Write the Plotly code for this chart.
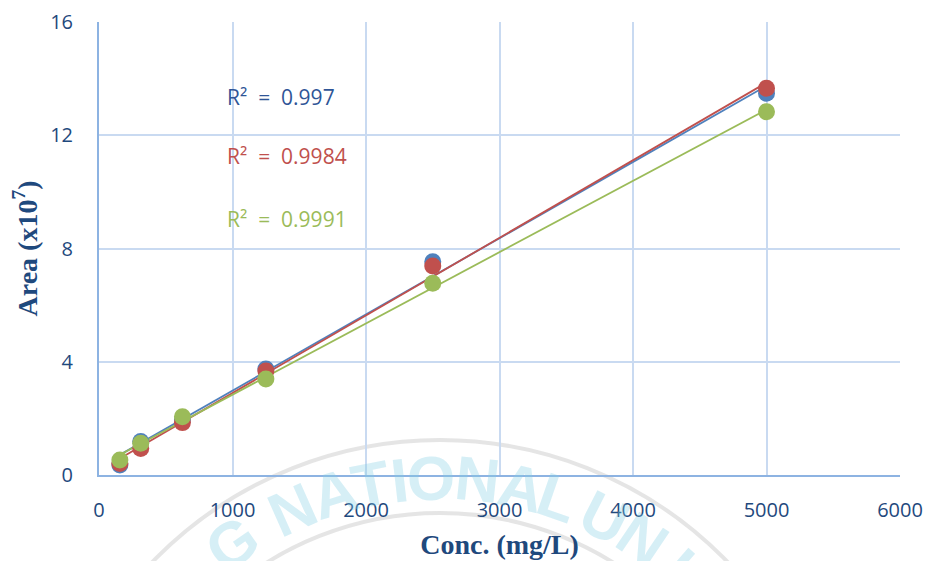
import numpy as np
import plotly.graph_objects as go

conc = [156.25, 312.5, 625, 1250, 2500, 5000]
area_blue = [0.35, 1.18, 1.95, 3.74, 7.53, 13.48]
area_red = [0.41, 0.94, 1.85, 3.67, 7.38, 13.66]
area_green = [0.53, 1.12, 2.06, 3.39, 6.77, 12.83]
r2_labels = ["R²  =  0.997", "R²  =  0.9984", "R²  =  0.9991"]
x_ticks = [0, 1000, 2000, 3000, 4000, 5000, 6000]
y_ticks = [0, 4, 8, 12, 16]

series = [
    ("blue", area_blue, "#4f81bd", "#2f5597"),
    ("red", area_red, "#c0504d", "#c0504d"),
    ("green", area_green, "#9bbb59", "#9bbb59"),
]

# page has an 8px body margin; figure fills the rest of the 932x569 window
OFF = 8
W, H = 932 - 2 * OFF, 569 - 2 * OFF
PL, PR, PT, PB = 99, 900, 22, 475          # plot area in page pixels
ML, MR, MT, MB = PL - OFF, W - (PR - OFF), PT - OFF, H - (PB - OFF)
PW, PH = PR - PL, PB - PT

def px2paper(px, py):
    return (px - PL) / PW, (PB - py) / PH

fig = go.Figure()
x_arr = np.array(conc)
for name, vals, col, _ in series:
    k, b = np.polyfit(x_arr, np.array(vals), 1)
    xl = np.array([conc[0], conc[-1]])
    fig.add_trace(go.Scatter(x=xl, y=k * xl + b, mode="lines",
                             line=dict(color=col, width=1.8),
                             showlegend=False, hoverinfo="skip"))
for name, vals, col, _ in series:
    fig.add_trace(go.Scatter(x=conc, y=vals, mode="markers",
                             marker=dict(color=col, size=17,
                                         line=dict(color=col, width=0)),
                             showlegend=False, name=name))

# R² labels
r2_pos = [(225, 97), (225, 156), (225, 219)]
annotations = []
for (px, py), txt, (_, _, _, tc) in zip(r2_pos, r2_labels, series):
    ax, ay = px2paper(px, py)
    annotations.append(dict(x=ax, y=ay, xref="paper", yref="paper", text=txt,
                            showarrow=False, xanchor="left", yanchor="middle",
                            font=dict(family="Open Sans", size=21, color=tc)))

# watermark (seal) letters along an arc
cx, cy, rr = 440, 840, 362
letters = ["G", "N", "A", "T", "I", "O", "N", "A", "L", "U", "N", "I"]
angles = [-35, -24, -17, -11, -6.5, -1.5, 6, 13, 19, 27, 34, 41]
for ch, th in zip(letters, angles):
    t = np.radians(th)
    px = cx + rr * np.sin(t)
    py = cy - rr * np.cos(t)
    ax, ay = px2paper(px, py)
    annotations.append(dict(x=ax, y=ay, xref="paper", yref="paper", text="<b>" + ch + "</b>",
                            showarrow=False, textangle=th,
                            xanchor="center", yanchor="middle",
                            font=dict(family="Liberation Sans", size=62,
                                      color="rgba(130,205,228,0.33)")))

shapes = []
for rad in (400, 327):
    x0, y0 = px2paper(cx - rad, cy + rad)
    x1, y1 = px2paper(cx + rad, cy - rad)
    shapes.append(dict(type="circle", xref="paper", yref="paper",
                       x0=x0, y0=y0, x1=x1, y1=y1, layer="below",
                       line=dict(color="rgba(190,190,190,0.4)", width=4)))

tick_font = dict(family="Open Sans", size=20, color="#1f497d")
title_font = dict(family="Liberation Serif", size=28, color="#1f497d")

fig.update_layout(
    width=W, height=H,
    margin=dict(l=ML, r=MR, t=MT, b=MB, autoexpand=False),
    paper_bgcolor="white", plot_bgcolor="rgba(0,0,0,0)",
    annotations=annotations, shapes=shapes,
    xaxis=dict(range=[0, 6000], tickvals=x_ticks, ticktext=[str(v) for v in x_ticks],
               showgrid=True, gridcolor="#c9daf1", gridwidth=1.5,
               showline=True, linecolor="#8db3e2", linewidth=2,
               zeroline=False, ticks="outside", ticklen=16, tickcolor="rgba(0,0,0,0)",
               tickfont=tick_font, automargin=False,
               title=dict(text="<b>Conc. (mg/L)</b>", font=title_font, standoff=12)),
    yaxis=dict(range=[0, 16], tickvals=y_ticks, ticktext=[str(v) for v in y_ticks],
               showgrid=True, gridcolor="#c9daf1", gridwidth=1.5,
               showline=True, linecolor="#8db3e2", linewidth=2,
               zeroline=False, ticks="outside", ticklen=20, tickcolor="rgba(0,0,0,0)",
               tickfont=tick_font, automargin=False,
               title=dict(text="<b>Area (x10<sup>7</sup>)</b>", font=title_font, standoff=12)),
)
fig.write_html("out.html")
